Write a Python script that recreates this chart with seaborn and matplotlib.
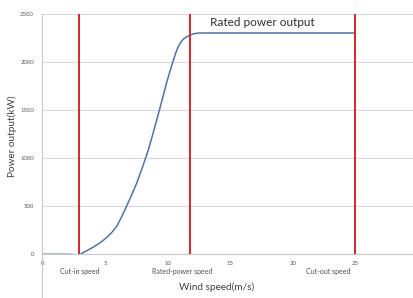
import pandas as pd
import numpy as np
import seaborn as sns
import matplotlib.pyplot as plt
from matplotlib.transforms import blended_transform_factory

# power curve
wind = [0, 1, 2, 2.4, 2.95, 3.3, 3.67, 4.07, 4.47, 4.87, 5.27, 5.6, 5.94, 6.33, 6.73,
        7.13, 7.53, 8.0, 8.46, 8.86, 9.26, 9.6, 9.93, 10.2, 10.5, 10.7, 10.9,
        11.1, 11.3, 11.55, 11.8, 12.1, 12.45, 13, 15, 20, 25]
power = [0, 0, 0, -2, -8, 20, 45, 75, 107, 145, 190, 235, 290, 388, 500,
         615, 736, 905, 1082, 1265, 1455, 1620, 1785, 1905, 2030, 2110, 2170,
         2212, 2240, 2262, 2278, 2292, 2299, 2300, 2300, 2300, 2300]

cut_in = 2.95
rated_speed = 11.8
cut_out = 25
speed_names = ["Cut-in speed", "Rated-power speed", "Cut-out speed"]
speed_label_x = [3, 11.2, 22.8]

curve = pd.DataFrame({"wind": wind, "power": power})

sns.set_style("white")
plt.rcParams["font.family"] = ["Lato", "DejaVu Sans"]

fig = plt.figure(figsize=(4.14, 2.98), dpi=100)
ax = fig.add_axes([0.102, 0.1466, 0.908, 0.8074])

sns.lineplot(data=curve, x="wind", y="power", ax=ax, color="#4f73a8", linewidth=1.1)

for s in [cut_in, rated_speed, cut_out]:
    ax.axvline(s, color="#d0282e", linewidth=1.4, zorder=3)

ax.set_xlim(0, 30)
ax.set_ylim(0, 2500)
ax.set_xticks(range(0, 31, 5))
ax.set_yticks(range(0, 2501, 500))
ax.yaxis.grid(True, color="#d9d9d9", linewidth=0.8)
ax.set_axisbelow(True)

for side in ["top", "right"]:
    ax.spines[side].set_visible(False)
ax.spines["left"].set_color("#c8c8c8")
ax.spines["bottom"].set_color("#c8c8c8")
ax.spines["left"].set_bounds(-470, 2500)

ax.tick_params(axis="both", length=0, labelsize=4.3, labelcolor="#595959")
ax.tick_params(axis="x", pad=5)
ax.tick_params(axis="y", pad=6)

ax.set_xlabel("Wind speed(m/s)", fontsize=7.2, color="#404040")
ax.set_ylabel("Power output(kW)", fontsize=7.2, color="#404040")
ax.xaxis.set_label_coords(0.464, -0.136)
ax.yaxis.set_label_coords(-0.0806, 0.49)
ax.xaxis.label.set_va("center")
ax.yaxis.label.set_va("center")

trans = blended_transform_factory(ax.transData, ax.transAxes)
for name, px in zip(speed_names, speed_label_x):
    ax.text(px, -0.07, name, transform=trans, ha="center", va="center",
            fontsize=5, color="#505050")

ax.text(17.6, 2410, "Rated power output", ha="center", va="center",
        fontsize=8.5, color="#303030")

fig.savefig("out.png", dpi=100)
